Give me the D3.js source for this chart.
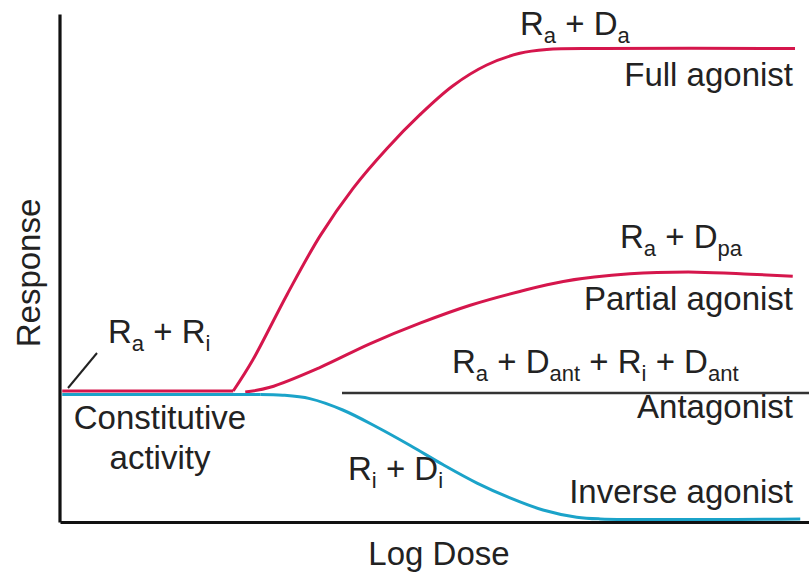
<!DOCTYPE html>
<html>
<head>
<meta charset="utf-8">
<script src="https://cdn.jsdelivr.net/npm/d3@7"></script>
<style>
  html, body { margin: 0; padding: 0; background: #fff; }
  svg { display: block; }
  text { font-family: "Liberation Sans", Arial, Helvetica, sans-serif; fill: #222; }
</style>
</head>
<body>
<svg id="chart" width="809" height="575"></svg>
<script>
// ---- Data (log dose units, response relative to constitutive activity) ----
const fullDose     = [0.03, 2.31, 2.57, 3.03, 3.47, 3.91, 4.36, 4.80, 5.24, 5.69, 6.13, 6.49, 7.20, 9.80];
const fullResp     = [0.006, 0.006, 0.096, 0.287, 0.457, 0.595, 0.71, 0.808, 0.892, 0.952, 0.986, 0.997, 1.0, 1.0];

const partialDose  = [2.47, 2.80, 3.47, 4.13, 4.80, 5.47, 6.13, 6.71, 7.60, 8.49, 9.20, 9.77];
const partialResp  = [0.003, 0.017, 0.075, 0.143, 0.203, 0.255, 0.295, 0.324, 0.346, 0.351, 0.345, 0.339];

const inverseDose  = [0.03, 2.67, 2.97, 3.33, 3.77, 4.23, 4.67, 5.11, 5.56, 6.00, 6.44, 6.89, 7.20, 9.87];
const inverseResp  = [-0.004, -0.004, -0.006, -0.016, -0.049, -0.099, -0.152, -0.208, -0.261, -0.304, -0.339, -0.36, -0.365, -0.365];

const antagonistDose = [3.76, 10.0];
const antagonistResp = [0, 0];

const xAxisTitle = "Log Dose";
const yAxisTitle = "Response";

const svg = d3.select("#chart");
const x = d3.scaleLinear().domain([0, 10]).range([60, 810]);
const y = d3.scaleLinear().domain([-0.374, 1.1]).range([522, 14]);

const RED = "#d5164c", BLUE = "#1ba3c9";

const smooth = d3.line().x(d => x(d[0])).y(d => y(d[1])).curve(d3.curveCatmullRom.alpha(0.5));
const straight = d3.line().x(d => x(d[0])).y(d => y(d[1]));
const zip = (a, b) => a.map((v, i) => [v, b[i]]);

// Axes (no ticks)
const xAxis = d3.axisBottom(x).tickValues([]).tickSizeOuter(0);
const yAxis = d3.axisLeft(y).tickValues([]).tickSizeOuter(0);
const gx = svg.append("g").attr("transform", `translate(0,${y(-0.374)})`).call(xAxis);
gx.select(".domain").attr("stroke", "#111").attr("stroke-width", 3.2);
const gy = svg.append("g").attr("transform", `translate(${x(0) - 0.5},0)`).call(yAxis);
gy.select(".domain").attr("stroke", "#111").attr("stroke-width", 3.2);

// a curve drawn as a flat (linear) baseline part, then a smooth part
function curve(pts, flatCount, color, w) {
  const g = svg.append("g").attr("fill", "none").attr("stroke", color)
    .attr("stroke-width", w).attr("stroke-linecap", "butt").attr("stroke-linejoin", "round");
  if (flatCount > 1) g.append("path").attr("d", straight(pts.slice(0, flatCount)));
  g.append("path").attr("d", smooth(pts.slice(Math.max(0, flatCount - 1))));
}

svg.append("path").datum(zip(antagonistDose, antagonistResp)).attr("d", straight)
  .attr("fill", "none").attr("stroke", "#333").attr("stroke-width", 2.5);
curve(zip(fullDose, fullResp), 2, RED, 3);
curve(zip(partialDose, partialResp), 0, RED, 3);
curve(zip(inverseDose, inverseResp), 2, BLUE, 3);

// Leader line for Ra + Ri
svg.append("line").attr("x1", 68).attr("y1", 388).attr("x2", 97).attr("y2", 353)
  .attr("stroke", "#222").attr("stroke-width", 2);

// Labels with subscripts
const FS = 33, SS = 22, SUB = 8;
function label(xp, yp, parts, anchor) {
  const t = svg.append("text").attr("x", xp).attr("y", yp)
    .attr("font-size", FS).attr("text-anchor", anchor || "start");
  let shifted = false;
  parts.forEach(p => {
    const isSub = Array.isArray(p);
    const s = t.append("tspan").text(isSub ? p[0] : p)
      .attr("font-size", isSub ? SS : FS);
    if (isSub && !shifted) { s.attr("dy", SUB); shifted = true; }
    else if (!isSub && shifted) { s.attr("dy", -SUB); shifted = false; }
  });
  return t;
}

label(520, 35, ["R", ["a"], " + D", ["a"]]);
label(793, 86, ["Full agonist"], "end");
label(620, 248, ["R", ["a"], " + D", ["pa"]]);
label(793, 310, ["Partial agonist"], "end");
label(452, 373, ["R", ["a"], " + D", ["ant"], " + R", ["i"], " + D", ["ant"]]);
label(793, 418, ["Antagonist"], "end");
label(348, 480, ["R", ["i"], " + D", ["i"]]);
label(793, 503, ["Inverse agonist"], "end");
label(108, 343, ["R", ["a"], " + R", ["i"]]);
label(160, 429, ["Constitutive"], "middle");
label(160, 469, ["activity"], "middle");

// Axis titles
svg.append("text").attr("x", 439).attr("y", 565).attr("text-anchor", "middle")
  .attr("font-size", FS).text(xAxisTitle);
svg.append("text").attr("transform", "translate(40,273) rotate(-90)")
  .attr("text-anchor", "middle").attr("font-size", FS).text(yAxisTitle);
</script>
</body>
</html>
